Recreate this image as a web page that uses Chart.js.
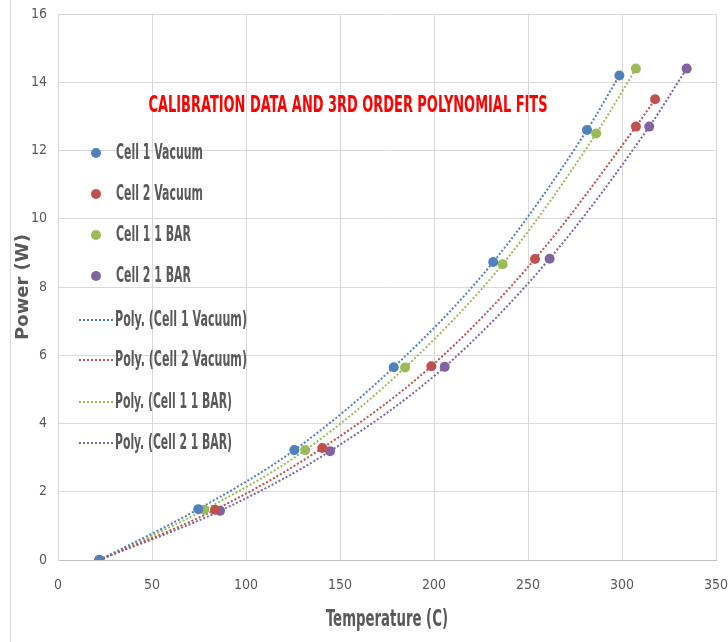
<!DOCTYPE html>
<html>
<head>
<meta charset="utf-8">
<script src="https://cdn.jsdelivr.net/npm/chart.js@4/dist/chart.umd.min.js"></script>
<style>
  html, body { margin: 0; padding: 0; background: #ffffff; }
  #wrap { position: relative; width: 728px; height: 642px; }
  #frame { position: absolute; left: 10px; top: 0; width: 1px; height: 642px; background: #d9d9d9; }
  canvas { position: absolute; left: 0; top: 0; }
</style>
</head>
<body>
<div id="wrap"><div id="frame"></div><canvas id="c" width="728" height="642"></canvas></div>
<script>
// ---- data ----
const seriesNames = ["Cell 1 Vacuum", "Cell 2 Vacuum", "Cell 1 1 BAR", "Cell 2 1 BAR"];
const cell1VacuumT = [22, 74.6, 125.7, 178.6, 231.5, 281.4, 298.6];
const cell1VacuumP = [0, 1.49, 3.22, 5.65, 8.73, 12.6, 14.2];
const cell2VacuumT = [22, 83.5, 140.6, 198.6, 253.7, 307.4, 317.6];
const cell2VacuumP = [0, 1.47, 3.28, 5.68, 8.82, 12.7, 13.5];
const cell1BarT = [22, 77.8, 131.5, 184.6, 236.5, 286.3, 307.4];
const cell1BarP = [0, 1.47, 3.22, 5.64, 8.67, 12.5, 14.4];
const cell2BarT = [22, 86.2, 144.7, 205.7, 261.5, 314.5, 334.4];
const cell2BarP = [0, 1.44, 3.19, 5.66, 8.83, 12.7, 14.4];
const xTicks = [0, 50, 100, 150, 200, 250, 300, 350];
const yTicks = [0, 2, 4, 6, 8, 10, 12, 14, 16];
const titleText = "CALIBRATION DATA AND 3RD ORDER POLYNOMIAL FITS";
const xTitle = "Temperature (C)";
const yTitle = "Power (W)";

const colors = ["#4F81BD", "#C0504D", "#9BBB59", "#8064A2"];
const allT = [cell1VacuumT, cell2VacuumT, cell1BarT, cell2BarT];
const allP = [cell1VacuumP, cell2VacuumP, cell1BarP, cell2BarP];

function pts(ts, ps) { return ts.map((t, i) => ({ x: t, y: ps[i] })); }

const narrow = "'Liberation Sans Narrow', 'DejaVu Sans Condensed', 'Open Sans', sans-serif";

const datasets = [];
// dotted polynomial trend lines (drawn underneath)
for (let i = 0; i < 4; i++) {
  datasets.push({
    label: "Poly. (" + seriesNames[i] + ")",
    data: pts(allT[i], allP[i]),
    showLine: true,
    borderColor: colors[i],
    borderWidth: 2,
    borderDash: [2, 2],
    pointRadius: 0,
    pointHoverRadius: 0,
    cubicInterpolationMode: 'monotone',
    fill: false,
    order: 2
  });
}
// markers
for (let i = 0; i < 4; i++) {
  datasets.push({
    label: seriesNames[i],
    data: pts(allT[i], allP[i]),
    showLine: false,
    backgroundColor: colors[i],
    borderColor: colors[i],
    pointRadius: 5,
    pointBorderWidth: 0,
    order: 1
  });
}

function drawSquashed(ctx, text, x, y, targetW, font, color, align) {
  ctx.save();
  ctx.font = font;
  ctx.fillStyle = color;
  ctx.textBaseline = 'middle';
  ctx.textAlign = 'left';
  const w = ctx.measureText(text).width;
  const sx = targetW / w;
  let left = x;
  if (align === 'center') left = x - targetW / 2;
  ctx.translate(left, y);
  ctx.scale(sx, 1);
  ctx.fillText(text, 0, 0);
  ctx.restore();
}

const overlay = {
  id: 'overlay',
  afterDraw(chart) {
    const ctx = chart.ctx;
    const area = chart.chartArea;
    drawSquashed(ctx, titleText, 348, 106, 399, "bold 23px " + narrow, "#FF0000", 'center');
    // x axis title
    drawSquashed(ctx, xTitle, (area.left + area.right) / 2, 620, 122, "bold 23px " + narrow, "#595959", 'center');
    const markerRows = [153, 194, 235, 276];
    const lineRows = [320, 360, 402, 443];
    const markerW = [87, 87, 75, 75];
    const lineW = [132, 132, 117, 117];
    const font = "bold 22px " + narrow;
    for (let i = 0; i < 4; i++) {
      ctx.save();
      ctx.fillStyle = colors[i];
      ctx.beginPath();
      ctx.arc(96, markerRows[i], 5, 0, Math.PI * 2);
      ctx.fill();
      ctx.restore();
      drawSquashed(ctx, seriesNames[i], 116, markerRows[i], markerW[i], font, "#595959", 'left');
    }
    for (let i = 0; i < 4; i++) {
      ctx.save();
      ctx.strokeStyle = colors[i];
      ctx.lineWidth = 2;
      ctx.setLineDash([2, 2]);
      ctx.beginPath();
      ctx.moveTo(79, lineRows[i]);
      ctx.lineTo(113, lineRows[i]);
      ctx.stroke();
      ctx.restore();
      drawSquashed(ctx, "Poly. (" + seriesNames[i] + ")", 115, lineRows[i], lineW[i], font, "#595959", 'left');
    }
  }
};

new Chart(document.getElementById('c'), {
  type: 'scatter',
  data: { datasets },
  options: {
    responsive: false,
    animation: false,
    devicePixelRatio: 1,
    layout: { padding: { left: 0, right: 12, top: 14, bottom: 0 } },
    plugins: {
      legend: { display: false },
      title: { display: false },
      tooltip: { enabled: false }
    },
    scales: {
      x: {
        type: 'linear',
        min: 0, max: 350,
        afterBuildTicks(scale) { scale.ticks = xTicks.map(v => ({ value: v })); },
        afterFit(scale) { scale.height = 82; scale.paddingLeft = 0; scale.paddingRight = 0; },
        grid: { color: '#d9d9d9', drawTicks: false, lineWidth: 1 },
        border: { color: '#bfbfbf', width: 1 },
        ticks: { color: '#595959', padding: 17, font: { family: narrow, size: 14 } },
        title: { display: false, text: xTitle }
      },
      y: {
        type: 'linear',
        min: 0, max: 16,
        afterBuildTicks(scale) { scale.ticks = yTicks.map(v => ({ value: v })); },
        afterFit(scale) { scale.width = 58; scale.paddingTop = 0; scale.paddingBottom = 0; },
        grid: { color: '#d9d9d9', drawTicks: false, lineWidth: 1 },
        border: { color: '#d9d9d9', width: 1 },
        ticks: { color: '#595959', padding: 11, font: { family: narrow, size: 14 } },
        title: {
          display: true, text: yTitle, color: '#595959',
          font: { family: "'DejaVu Sans', sans-serif", size: 18, weight: 'bold' },
          padding: { top: 13, bottom: 0 }
        }
      }
    }
  },
  plugins: [overlay]
});
</script>
</body>
</html>
